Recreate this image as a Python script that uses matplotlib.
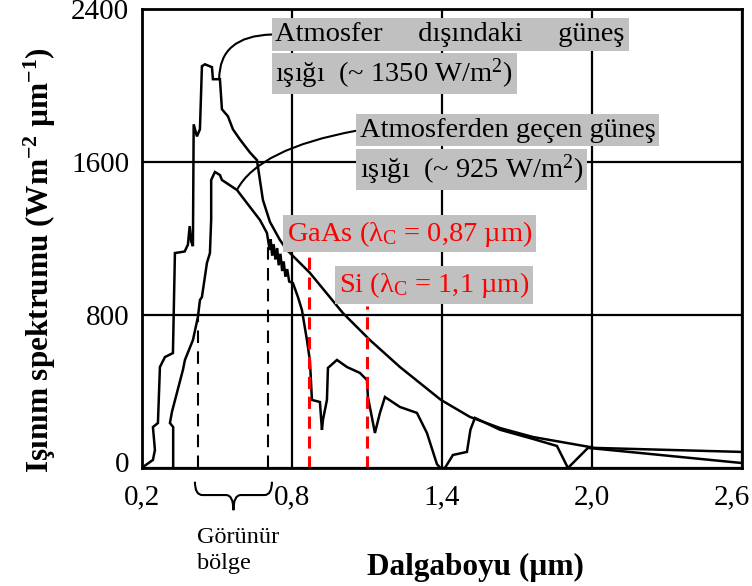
import numpy as np
import matplotlib
matplotlib.use("Agg")
import matplotlib.pyplot as plt
import matplotlib.transforms as mtransforms
from matplotlib.path import Path
from matplotlib.patches import PathPatch

plt.rcParams['font.family'] = ['Liberation Serif', 'DejaVu Serif']
plt.rcParams['mathtext.fontset'] = 'custom'
plt.rcParams['mathtext.rm'] = 'Liberation Serif'
plt.rcParams['mathtext.it'] = 'Liberation Serif:italic'
plt.rcParams['mathtext.bf'] = 'Liberation Serif:bold'

# Solar spectrum outside the atmosphere (wavelength in µm, W m^-2 µm^-1)
wl_space = [0.205, 0.245, 0.253, 0.245, 0.265, 0.273, 0.293, 0.325, 0.333,
            0.372, 0.385, 0.392, 0.398, 0.405, 0.408, 0.421, 0.433, 0.441,
            0.453, 0.481, 0.485, 0.513, 0.521, 0.545, 0.565, 0.593, 0.633,
            0.661, 0.685, 0.713, 0.753, 0.781, 0.873, 1.005, 1.113, 1.233,
            1.397, 1.513, 1.633, 1.765, 2.013, 2.6]
irr_space = [5, 42, 94, 214, 235, 528, 580, 601, 1124,
             1132, 1168, 1265, 1185, 1160, 1797, 1734, 1771, 2101,
             2111, 2096, 2033, 2033, 1876, 1839, 1771, 1718, 1650,
             1610, 1401, 1287, 1192, 1140, 1020, 810, 669, 528,
             356, 267, 209, 162, 105, 84]

# Solar spectrum after passing through the atmosphere
wl_ground = [0.326, 0.326, 0.313, 0.321, 0.365, 0.373, 0.405, 0.425, 0.433,
             0.441, 0.461, 0.473, 0.478, 0.478, 0.493, 0.513, 0.521, 0.581,
             0.633, 0.673, 0.701, 0.712, 0.716, 0.722, 0.728, 0.735, 0.742,
             0.748, 0.755, 0.762, 0.768, 0.775, 0.782, 0.790, 0.805, 0.825,
             0.841, 0.861, 0.873, 0.881, 0.913, 0.921, 0.925, 0.941, 0.945,
             0.981, 1.021, 1.073, 1.101, 1.105, 1.133, 1.153, 1.173, 1.233,
             1.301, 1.341, 1.381, 1.395, 1.413, 1.445, 1.501, 1.515, 1.533,
             1.633, 1.765, 1.861, 1.905, 1.985, 2.181, 2.6]
irr_ground = [5, 214, 235, 293, 513, 565, 669, 790, 878,
              894, 1072, 1124, 1300, 1506, 1548, 1532, 1506, 1454,
              1365, 1297, 1229, 1140, 1195, 1110, 1170, 1090, 1150,
              1060, 1120, 1030, 1080, 1000, 1040, 975, 967, 894,
              826, 669, 560, 356, 345, 199, 251, 356, 523,
              565, 528, 497, 460, 371, 183, 288, 371, 319,
              288, 183, 20, 0, 0, 68, 84, 200, 262,
              200, 152, 115, 0, 105, 80, 26]

x_ticks = [0.2, 0.8, 1.4, 2.0, 2.6]
x_tick_labels = ['0,2', '0,8', '1,4', '2,0', '2,6']
y_ticks = [0, 800, 1600, 2400]
y_tick_labels = ['0', '800', '1600', '2400']

visible_band = [0.425, 0.705]
cutoff_wl = [0.87, 1.1]
cutoff_names = [r'GaAs ($\mathrm{λ_C}$ = 0,87 µm)', r'Si ($\mathrm{λ_C}$ = 1,1 µm)']

FS = 20.5

fig = plt.figure(figsize=(7.52, 5.86), dpi=100)
ax = fig.add_axes([0.1884, 0.2014, 0.7979, 0.7832])

ax.plot(wl_space, irr_space, color='black', lw=1.8, solid_joinstyle='miter')
ax.plot(wl_ground, irr_ground, color='black', lw=1.8, solid_joinstyle='miter')

# visible region boundaries, dashed up to the ground-level curve
ground_sorted = np.argsort(wl_ground)
wl_g_sorted = np.array(wl_ground)[ground_sorted]
irr_g_sorted = np.array(irr_ground)[ground_sorted]
for wl in visible_band:
    top = np.interp(wl, wl_g_sorted, irr_g_sorted)
    ax.plot([wl, wl], [0, top], color='black', lw=1.5, dashes=(6, 4))

# band-gap cutoff wavelengths
cutoff_tops = [1150, 845]
for wl, top in zip(cutoff_wl, cutoff_tops):
    ax.plot([wl, wl], [0, top], color='red', lw=2.2, dashes=(4, 2.5))

ax.set_xlim(0.2, 2.6)
ax.set_ylim(0, 2400)
ax.set_xticks(x_ticks)
ax.set_xticklabels(x_tick_labels)
ax.set_yticks(y_ticks)
ax.set_yticklabels(y_tick_labels)
ax.tick_params(axis='both', length=0, labelsize=21)
ax.tick_params(axis='x', pad=12)
ax.tick_params(axis='y', pad=9)
ax.grid(True, color='black', lw=1.6)
ax.set_axisbelow(True)
for sp in ax.spines.values():
    sp.set_linewidth(2)

# keep the last x label inside the canvas
last = ax.get_xticklabels()[-1]
last.set_transform(last.get_transform() +
                   mtransforms.ScaledTranslation(-10 / 100, 0, fig.dpi_scale_trans))
first_y = ax.get_yticklabels()[0]
first_y.set_transform(first_y.get_transform() +
                      mtransforms.ScaledTranslation(0, 6 / 100, fig.dpi_scale_trans))

ax.set_xlabel('Dalgaboyu (µm)', fontsize=22.5, fontweight='bold')
ax.xaxis.set_label_coords(0.557, -0.186)
ax.set_ylabel(r'Işınım spektrumu (Wm$^{\mathbf{-2}}$ µm$^{\mathbf{-1}}$)',
              fontsize=22.5, fontweight='bold')
ax.yaxis.set_label_coords(-0.139, 0.453)

box = dict(boxstyle='square,pad=0.13', fc='#c0c0c0', ec='none')
leader = dict(arrowstyle='-', lw=1.5, color='black', shrinkA=0, shrinkB=0,
              relpos=(0, 0.5))

# callout for the spectrum outside the atmosphere
x_pt = 0.51
ax.annotate('Atmosfer     dışındaki     güneş',
            xy=(x_pt, np.interp(x_pt, wl_space[14:], irr_space[14:])),
            xytext=(0.735, 2267), fontsize=FS, va='center', ha='left', bbox=box,
            arrowprops=dict(leader, connectionstyle='angle3,angleA=0,angleB=90'))
ax.text(0.735, 2063, r'ışığı  (~ 1350 W/m$^{2}$)', fontsize=FS,
        va='center', ha='left', bbox=box)

# callout for the spectrum after the atmosphere
x_pt = 0.581
ax.annotate('Atmosferden geçen güneş',
            xy=(x_pt, np.interp(x_pt, wl_g_sorted, irr_g_sorted)),
            xytext=(1.073, 1767), fontsize=FS, va='center', ha='left', bbox=box,
            arrowprops=dict(leader, connectionstyle='angle3,angleA=10,angleB=62'))
ax.text(1.073, 1561, r'ışığı  (~ 925 W/m$^{2}$)', fontsize=FS,
        va='center', ha='left', bbox=box)

# cutoff labels
label_pos = [(0.782, 1226), (0.989, 957)]
for name, (lx, ly) in zip(cutoff_names, label_pos):
    ax.text(lx, ly, name, fontsize=FS, color='red', va='center', ha='left', bbox=box)

# brace marking the visible band under the axis
trans = mtransforms.blended_transform_factory(ax.transData, ax.transAxes)
x0, x1 = visible_band[0] - 0.012, visible_band[1] + 0.016
xc = 0.5 * (x0 + x1)
d = 0.03
yE, yM, yT = -0.03, -0.059, -0.092
verts = [(x0, yE), (x0, yM), (x0 + d, yM), (xc - d, yM), (xc, yM), (xc, yT),
         (xc, yM), (xc + d, yM), (x1 - d, yM), (x1, yM), (x1, yE)]
codes = [Path.MOVETO, Path.CURVE3, Path.CURVE3, Path.LINETO, Path.CURVE3, Path.CURVE3,
         Path.CURVE3, Path.CURVE3, Path.LINETO, Path.CURVE3, Path.CURVE3]
ax.add_patch(PathPatch(Path(verts, codes), transform=trans, fc='none', ec='black',
                       lw=1.5, clip_on=False))
ax.text(0.422, -0.128, 'Görünür\nbölge', transform=trans, fontsize=17.5,
        va='top', ha='left', linespacing=1.3)

fig.savefig('out.png', dpi=100)
